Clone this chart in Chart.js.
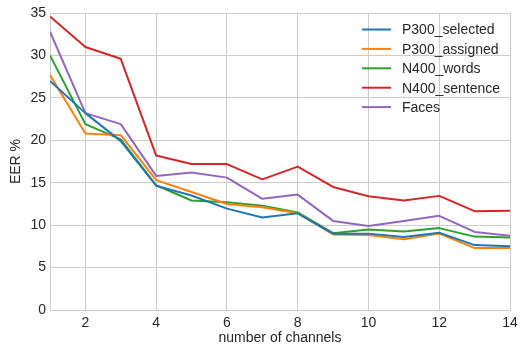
<!DOCTYPE html>
<html>
<head>
<meta charset="utf-8">
<script src="https://cdn.jsdelivr.net/npm/chart.js@4"></script>
<style>
  html, body { margin: 0; padding: 0; background: #fff; }
  canvas { display: block; }
</style>
</head>
<body>
<canvas id="eerChart" width="524" height="349"></canvas>
<script>
/* ===============================
   Data
================================ */
const channels = [1, 2, 3, 4, 5, 6, 7, 8, 9, 10, 11, 12, 13, 14];
const seriesNames = ["P300_selected", "P300_assigned", "N400_words", "N400_sentence", "Faces"];
const seriesColors = ["#1f77b4", "#ff7f0e", "#2ca02c", "#d62728", "#9467bd"];

const p300Selected = [27.0, 23.2, 19.9, 14.65, 13.5, 11.95, 10.9, 11.4, 9.0, 9.0, 8.6, 9.1, 7.65, 7.5];
const p300Assigned = [27.7, 20.8, 20.6, 15.3, 13.9, 12.5, 12.1, 11.4, 8.9, 8.85, 8.35, 9.0, 7.3, 7.3];
const n400Words = [30.0, 21.9, 20.1, 14.7, 12.9, 12.7, 12.3, 11.5, 9.05, 9.5, 9.25, 9.65, 8.65, 8.55];
const n400Sentence = [34.6, 31.0, 29.6, 18.2, 17.2, 17.2, 15.4, 16.9, 14.5, 13.4, 12.9, 13.45, 11.65, 11.7];
const faces = [32.8, 23.2, 21.9, 15.8, 16.2, 15.6, 13.1, 13.6, 10.5, 9.9, 10.5, 11.1, 9.2, 8.75];

const seriesValues = [p300Selected, p300Assigned, n400Words, n400Sentence, faces];

const FONT = "'Liberation Sans', Arial, sans-serif";
const TEXT = "#262626";
const GRID = "#cccccc";

/* ===============================
   Legend drawn inside the plot
================================ */
const insideLegend = {
  id: "insideLegend",
  afterDraw(chart) {
    const ctx = chart.ctx;
    ctx.save();
    ctx.font = "14px " + FONT;
    ctx.textBaseline = "middle";
    chart.data.datasets.forEach((ds, i) => {
      const y = 29.5 + i * 19.4;
      ctx.strokeStyle = ds.borderColor;
      ctx.lineWidth = 2;
      ctx.beginPath();
      ctx.moveTo(362, y);
      ctx.lineTo(391, y);
      ctx.stroke();
      ctx.fillStyle = TEXT;
      ctx.fillText(ds.label, 402, y + 1);
    });
    ctx.restore();
  },
};

/* ===============================
   Chart
================================ */
new Chart(document.getElementById("eerChart"), {
  type: "line",
  data: {
    datasets: seriesNames.map((name, i) => ({
      label: name,
      data: channels.map((c, j) => ({ x: c, y: seriesValues[i][j] })),
      borderColor: seriesColors[i],
      backgroundColor: seriesColors[i],
      borderWidth: 2,
      pointRadius: 0,
      tension: 0,
      borderJoinStyle: "round",
    })),
  },
  options: {
    responsive: false,
    animation: false,
    layout: { padding: { top: 13, right: 14, left: 0, bottom: 0 } },
    plugins: {
      legend: { display: false },
      tooltip: { enabled: false },
    },
    scales: {
      x: {
        type: "linear",
        min: 1,
        max: 14,
        afterBuildTicks: (axis) => {
          axis.ticks = axis.ticks.filter((t) => t.value % 2 === 0);
        },
        afterFit: (scale) => { scale.height = 39; },
        grid: { color: GRID, lineWidth: 1, drawTicks: false },
        border: { color: GRID, width: 1 },
        ticks: { stepSize: 2, padding: 5, color: TEXT, font: { family: FONT, size: 14 } },
        title: {
          display: true,
          text: "number of channels",
          color: TEXT,
          font: { family: FONT, size: 14 },
          padding: { top: 0, bottom: 2 },
        },
      },
      y: {
        min: 0,
        max: 35,
        afterFit: (scale) => { scale.width = 50; },
        grid: { color: GRID, lineWidth: 1, drawTicks: false },
        border: { color: GRID, width: 1 },
        ticks: { stepSize: 5, padding: 4, color: TEXT, font: { family: FONT, size: 14 } },
        title: {
          display: true,
          text: "EER %",
          color: TEXT,
          font: { family: FONT, size: 14 },
          padding: { top: 8, bottom: 0 },
        },
      },
    },
  },
  plugins: [insideLegend],
});
</script>
</body>
</html>
